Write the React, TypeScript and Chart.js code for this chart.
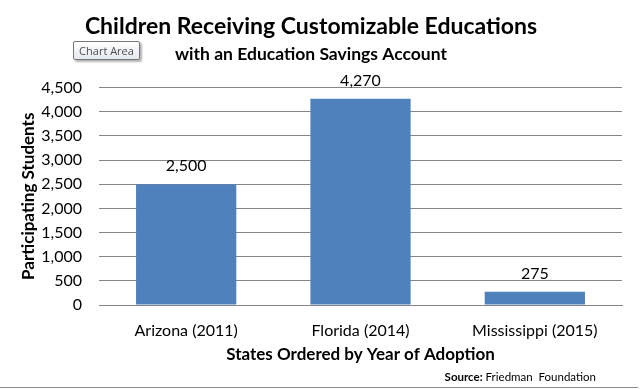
import React, { useEffect, useRef } from "react";
import { Chart, registerables } from "chart.js";

Chart.register(...registerables);

const categories = ["Arizona (2011)", "Florida (2014)", "Mississippi (2015)"];
const students = [2500, 4270, 275];
const yMin = 0;
const yMax = 4500;
const yStep = 500;

const titleText = "Children Receiving Customizable Educations";
const subtitleText = "with an Education Savings Account";
const yTitle = "Participating Students";
const xTitle = "States Ordered by Year of Adoption";

const FONT = "Lato, 'Open Sans', sans-serif";
const fmt = (v: number) => v.toLocaleString("en-US");

const valueLabels = {
  id: "valueLabels",
  afterDatasetsDraw(chart: any) {
    const ctx = chart.ctx;
    const meta = chart.getDatasetMeta(0);
    ctx.save();
    ctx.font = `16px ${FONT}`;
    ctx.fillStyle = "#000";
    ctx.textAlign = "center";
    ctx.textBaseline = "alphabetic";
    meta.data.forEach((bar: any, i: number) => {
      ctx.fillText(fmt(chart.data.datasets[0].data[i]), bar.x, bar.y - 13);
    });
    ctx.restore();
  },
};

export default function App() {
  const ref = useRef<HTMLCanvasElement>(null);
  useEffect(() => {
    if (!ref.current) return;
    const chart = new Chart(ref.current, {
      type: "bar",
      data: {
        labels: categories,
        datasets: [
          {
            data: students,
            backgroundColor: "#4F81BD",
            borderWidth: 0,
            categoryPercentage: 1,
            barPercentage: 0.575,
          },
        ],
      },
      options: {
        responsive: false,
        animation: false,
        devicePixelRatio: 1,
        layout: { padding: { left: 0, right: 19, top: 0, bottom: 0 } },
        plugins: {
          legend: { display: false },
          tooltip: { enabled: false },
          title: {
            display: true,
            text: titleText,
            color: "#000",
            font: { family: FONT, size: 23, weight: "bold" },
            padding: { top: 13, bottom: 1 },
          },
          subtitle: {
            display: true,
            text: subtitleText,
            color: "#000",
            font: { family: FONT, size: 17.5, weight: "bold" },
            padding: { top: 2, bottom: 23 },
          },
        },
        scales: {
          x: {
            z: 1,
            grid: { display: false, drawTicks: false },
            border: { display: true, color: "#868686", width: 1 },
            ticks: {
              color: "#000",
              font: { family: FONT, size: 16 },
              padding: 16,
              maxRotation: 0,
            },
            title: {
              display: true,
              text: xTitle,
              color: "#000",
              font: { family: FONT, size: 17, weight: "bold" },
              padding: { top: 6, bottom: 24 },
            },
            afterFit: (scale: any) => {
              scale.height = 84;
            },
          },
          y: {
            min: yMin,
            max: yMax,
            grid: { color: "#868686", lineWidth: 1, drawTicks: false },
            border: { display: false },
            ticks: {
              stepSize: yStep,
              color: "#000",
              font: { family: FONT, size: 16 },
              padding: 17,
              callback: (v: any) => fmt(Number(v)),
            },
            title: {
              display: true,
              text: yTitle,
              color: "#000",
              font: { family: FONT, size: 17, weight: "bold" },
              padding: { top: 18, bottom: 0 },
            },
            afterFit: (scale: any) => {
              scale.width = 99;
            },
          },
        },
      },
      plugins: [valueLabels],
    });
    return () => chart.destroy();
  }, []);

  return (
    <div style={{ position: "absolute", left: 0, top: 0, width: 641, height: 389, background: "#fff" }}>
      <canvas ref={ref} width={641} height={389} style={{ display: "block", width: 641, height: 389 }} />
      <div
        style={{
          position: "absolute",
          right: 45,
          top: 370,
          fontFamily: FONT,
          fontSize: 11.5,
          color: "#000",
          whiteSpace: "pre",
        }}
      >
        <b>Source:</b> Friedman  Foundation
      </div>
      <div
        style={{
          position: "absolute",
          left: 0,
          top: 387,
          width: 638,
          height: 0,
          borderTop: "1px solid #8a8a8a",
        }}
      />
      <div
        style={{
          position: "absolute",
          left: 73,
          top: 41,
          width: 65,
          height: 17,
          lineHeight: "17px",
          textAlign: "center",
          fontFamily: "'Open Sans', sans-serif",
          fontSize: 11,
          color: "#4d4d4d",
          background: "linear-gradient(#ffffff, #e4e8ee)",
          border: "1px solid #767676",
          borderRadius: 2,
          boxShadow: "2px 2px 2px rgba(0,0,0,0.3)",
          whiteSpace: "nowrap",
        }}
      >
        Chart Area
      </div>
    </div>
  );
}
